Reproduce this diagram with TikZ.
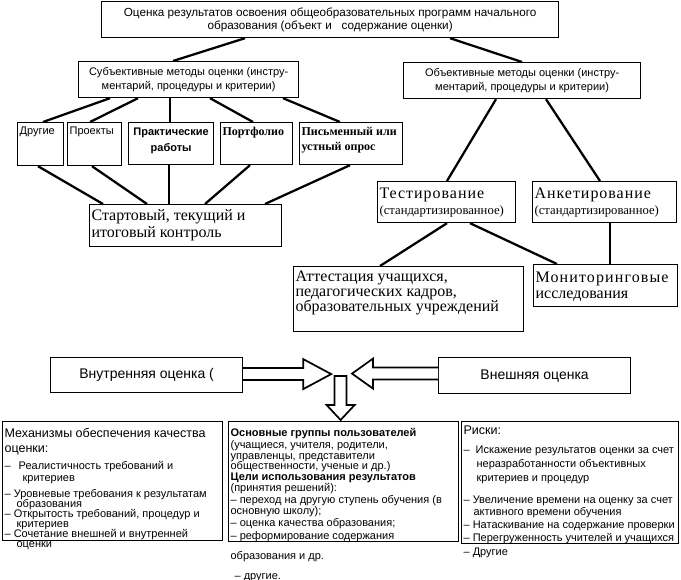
\documentclass[tikz,border=0pt]{standalone}
\usepackage{fontspec}
\setmainfont{Liberation Serif}
\setsansfont{Liberation Sans}
\usetikzlibrary{calc,positioning}

\newdimen\px
\px=0.75pt
\newcommand{\inbox}[4][t]{\parbox[c][\dimexpr#3\px-3pt\relax][#1]{\dimexpr#2\px-3pt\relax}{\raggedright\lineskiplimit=-\maxdimen\relax #4}}
\newcommand{\sanstext}{\sffamily\fontsize{8.25}{9.75}\selectfont}
\newcommand{\headtext}{\sffamily\fontsize{9.4}{9}\selectfont}
\newcommand{\serifbig}{\rmfamily\fontsize{12}{12.75}\selectfont}
\newcommand{\serifsmall}{\rmfamily\fontsize{9.5}{12}\selectfont}
\newcommand{\boldserif}{\rmfamily\bfseries\fontsize{9}{11.25}\selectfont}
\newcommand{\labeltext}{\sffamily\fontsize{10.5}{12}\selectfont}
\newcommand{\spaced}[2]{{\addfontfeature{LetterSpace=#1}#2}}

\tikzset{
	>=stealth,
	box/.style={draw, line width=0.9pt, inner sep=1.5pt, anchor=north west},
	link/.style={line width=1.7pt},
	blockarrow/.style={draw, fill=white, line width=1.3pt, line join=miter},
}

\begin{document}
\begin{tikzpicture}[x=0.75pt, y=-0.75pt, -]
	\useasboundingbox (0,0) rectangle (681,580);
	% upper part
	\node[box] (top) at (101,1) {\inbox[c]{457}{36}{\centering\sffamily\fontsize{8.8}{9.75}\selectfont Оценка результатов освоения общеобразовательных программ начального\\образования (объект и \ \ содержание оценки)}};
	\node[box] (subj) at (78,61) {\inbox[c]{220}{36}{\centering\sffamily\fontsize{8.25}{10.5}\selectfont Субъективные методы оценки (инстру-\\ментарий, процедуры и критерии)}};
	\node[box] (obj) at (403,62) {\inbox[c]{237}{36}{\centering\sffamily\fontsize{8.25}{10.5}\selectfont Объективные методы оценки (инстру-\\ментарий, процедуры и критерии)}};
	\node[box] (other) at (17,122) {\inbox{46}{43}{\sanstext\rule{0pt}{7.5pt}Другие}};
	\node[box] (proj) at (67,122) {\inbox{54}{43}{\sanstext\rule{0pt}{7.5pt}Проекты}};
	\node[box] (prak) at (128,122) {\inbox{85}{42}{\centering\sffamily\bfseries\fontsize{8.25}{12}\selectfont\rule{0pt}{8.25pt}Практические\\работы}};
	\node[box] (port) at (220,122) {\inbox{72}{42}{\boldserif\rule{0pt}{8.25pt}Портфолио}};
	\node[box] (oral) at (299,122) {\inbox{103}{42}{\boldserif\rule{0pt}{8.25pt}Письменный или\\устный опрос}};
	\node[box] (start) at (89,204) {\inbox[c]{192}{42}{\serifbig Стартовый, текущий и\\итоговый контроль}};
	\node[box] (test) at (377,181) {\inbox{138}{41}{\serifbig\rule{0pt}{11.25pt}\spaced{6}{Тестирование}\\\serifsmall (стандартизированное)}};
	\node[box] (anket) at (532,181) {\inbox{144}{41}{\serifbig\rule{0pt}{11.25pt}\spaced{6}{Анкетирование}\\\serifsmall (стандартизированное)}};
	\node[box] (attest) at (293,266) {\inbox{230}{65}{\rmfamily\fontsize{12}{11.25}\selectfont\rule{0pt}{9.75pt}Аттестация учащихся,\\педагогических кадров,\\образовательных учреждений}};
	\node[box] (monit) at (533,264) {\inbox{144}{42}{\rmfamily\fontsize{12}{12}\selectfont\rule{0pt}{12pt}\spaced{7}{Мониторинговые}\\исследования}};

	\draw[link] ($(top.south west)+(144,0)$) -- ($(subj.north west)+(95,0)$);
	\draw[link] ($(top.south west)+(349,0)$) -- ($(obj.north west)+(119,0)$);
	\draw[link] ($(subj.south west)+(32,0)$) -- ($(other.north west)+(26,0)$);
	\draw[link] ($(subj.south west)+(60,0)$) -- ($(proj.north west)+(23,0)$);
	\draw[link] ($(subj.south west)+(92,0)$) -- ($(prak.north west)+(42,0)$);
	\draw[link] ($(subj.south west)+(132,0)$) -- ($(port.north west)+(33,0)$);
	\draw[link] ($(subj.south west)+(205,0)$) -- ($(oral.north west)+(41,0)$);
	\draw[link] ($(other.south west)+(21,0)$) -- ($(start.north west)+(14,0)$);
	\draw[link] ($(proj.south west)+(25,0)$) -- ($(start.north west)+(58,0)$);
	\draw[link] ($(prak.south west)+(41,0)$) -- ($(start.north west)+(80,0)$);
	\draw[link] ($(port.south west)+(30,0)$) -- ($(start.north west)+(116,0)$);
	\draw[link] ($(oral.south west)+(51,0)$) -- ($(start.north west)+(176,0)$);
	\draw[link] ($(obj.south west)+(93,0)$) -- ($(test.north west)+(70,0)$);
	\draw[link] ($(obj.south west)+(143,0)$) -- ($(anket.north west)+(68,0)$);
	\draw[link] ($(test.south west)+(70,0)$) -- ($(attest.north west)+(87,0)$);
	\draw[link] ($(test.south west)+(93,0)$) -- ($(monit.north west)+(24,0)$);
	\draw[link] ($(anket.south west)+(78,0)$) -- ($(monit.north west)+(77,0)$);

	% lower part
	\node[box] (inner) at (50,357) {\inbox[c]{192}{35}{\centering\labeltext Внутренняя оценка (}};
	\node[box] (outer) at (438,357) {\inbox[c]{192}{36}{\centering\labeltext Внешняя оценка}};
	\node[box] (mech) at (2,421) {\inbox{220}{119}{\sffamily\fontsize{8.25}{6.75}\selectfont
		\rule{0pt}{10.5pt}{\headtext Механизмы обеспечения качества}\\[4.5pt]
		{\headtext оценки:}\\[6pt]
		–\hspace{8\px}Реалистичность требований и\\[2.25pt]
		\hspace*{18\px}критериев\\[5.25pt]
		– Уровневые требования к результатам\\[0.75pt]
		\hspace*{12\px}образования\\[0.75pt]
		– Открытость требований, процедур и\\[0.75pt]
		\hspace*{12\px}критериев\\[0.75pt]
		– Сочетание внешней и внутренней\\[0.75pt]
		\hspace*{12\px}оценки}};
	\node[box] (users) at (228,421) {\inbox{230}{120}{\sffamily\fontsize{8.25}{8.25}\selectfont
		\rule{0pt}{9.75pt}\textbf{Основные группы пользователей}\\[0.75pt]
		(учащиеся, учителя, родители,\\
		управленцы, представители\\[-0.75pt]
		общественности, ученые и др.)\\
		\textbf{Цели использования результатов}\\
		(принятия решений):\\[0.75pt]
		– переход на другую ступень обучения (в\\
		основную школу);\\[0.75pt]
		– оценка качества образования;\\[1.5pt]
		– реформирование содержания\\[6.75pt]
		образования и др.\\[6.75pt]
		\hspace*{4\px}– другие.}};
	\node[box] (risk) at (461,421) {\inbox{217}{122}{\sffamily\fontsize{8.25}{9}\selectfont
		\rule{0pt}{8.25pt}{\headtext Риски:}\\[5.25pt]
		–\hspace{6\px}Искажение результатов оценки за счет\\[1.5pt]
		\hspace*{13\px}неразработанности объективных\\[1.5pt]
		\hspace*{13\px}критериев и процедур\\[7.5pt]
		– Увеличение времени на оценку за счет\\
		\hspace*{10\px}активного времени обучения\\[0.75pt]
		– Натаскивание на содержание проверки\\[0.75pt]
		– Перегруженность учителей и учащихся\\[1.5pt]
		– Другие}};

	\draw[blockarrow] ($(inner.east)+(0,-7)$) -- ++(60,0) -- ++(0,-9) -- ++(28,15) -- ++(-28,15) -- ++(0,-9) -- ++(-60,0);
	\draw[blockarrow] ($(outer.west)+(0,-8)$) -- ++(-65,0) -- ++(0,-9) -- ++(-21,15) -- ++(21,15) -- ++(0,-9) -- ++(65,0);
	\draw[blockarrow] ($(users.north)+(-3,-1)$) -- ++(-14,-15) -- ++(8,0) -- ++(0,-29) -- ++(12,0) -- ++(0,29) -- ++(8,0) -- cycle;
\end{tikzpicture}
\end{document}
